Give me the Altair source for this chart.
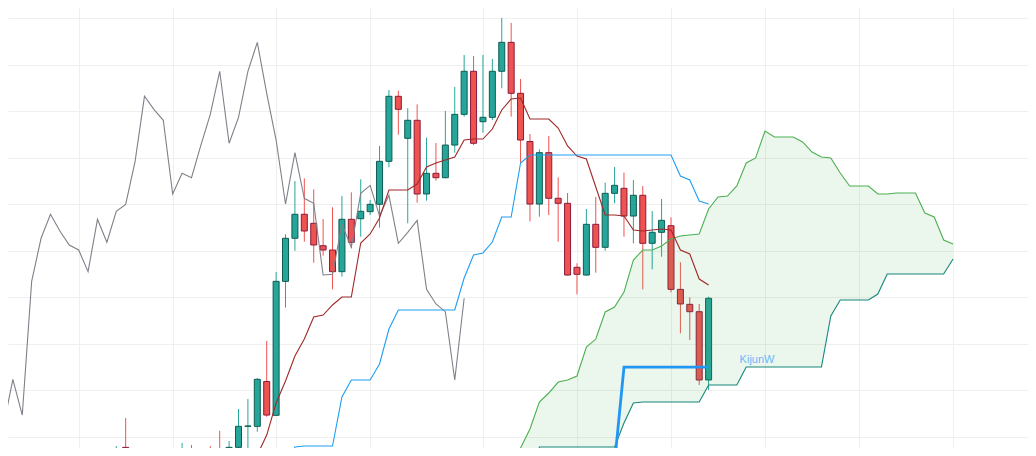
import altair as alt
import pandas as pd

# ---- candles (weekly bars, index position) ----
candle_idx = [0, 1, 7, 8, 9, 10, 11, 12, 13, 14, 15, 16, 17, 18, 19, 20, 21, 22, 23, 24,
              25, 26, 27, 28, 29, 30, 31, 32, 33, 34, 35, 36, 37, 38, 39, 40, 41, 42, 43, 44,
              45, 46, 47, 48, 49, 50, 51, 52, 53, 54, 55, 56, 57, 58, 59, 60, 61, 62, 63]
open_ = [467.0, 488.9, 464.5, 475.3, 462.4, 474.2, 477.4, 468.8, 488.9, 511.5, 511.5, 559.7, 523.3, 667.3, 713.6, 739.4, 729.7, 705.6, 701.0, 677.7,
         734.0, 734.6, 742.2, 750.1, 796.3, 866.2, 821.0, 840.4, 761.2, 783.4, 778.7, 813.8, 846.8, 893.1, 838.9, 843.6, 893.1, 924.2, 869.4, 817.6,
         750.4, 805.6, 756.6, 751.2, 682.4, 674.1, 728.6, 703.9, 761.9, 767.3, 737.5, 759.8, 708.2, 720.0, 727.1, 658.7, 642.6, 634.7, 561.3]
high = [490.3, 520.4, 493.6, 491.4, 482.8, 490.3, 506.8, 495.7, 530.1, 540.8, 563.4, 603.2, 677.3, 717.9, 775.1, 778.0, 766.2, 734.3, 746.9, 759.0,
        763.0, 777.0, 754.7, 812.8, 873.0, 872.2, 853.3, 857.6, 821.7, 816.0, 850.4, 876.2, 910.6, 909.5, 910.6, 906.3, 950.3, 945.0, 884.8, 825.7,
        809.2, 823.5, 779.1, 762.3, 686.7, 745.1, 758.0, 773.3, 790.2, 784.1, 776.2, 769.8, 742.9, 755.8, 736.1, 687.8, 650.1, 643.0, 650.8]
low = [462.4, 459.2, 459.2, 459.2, 455.9, 460.2, 462.4, 464.5, 481.4, 484.2, 505.7, 521.8, 523.0, 639.2, 700.2, 709.9, 687.3, 694.9, 658.7, 672.3,
       703.1, 715.3, 738.6, 725.0, 789.9, 824.9, 729.7, 751.8, 754.0, 775.5, 778.0, 805.6, 844.3, 813.8, 827.1, 840.7, 874.8, 844.3, 794.2, 731.8,
       736.8, 738.6, 709.9, 673.5, 653.4, 673.4, 676.6, 700.2, 751.2, 715.3, 708.2, 658.7, 680.2, 693.8, 655.5, 611.5, 604.3, 555.9, 550.5]
close = [476.4, 464.5, 475.3, 464.5, 473.1, 466.7, 468.8, 488.9, 511.5, 511.9, 562.0, 523.6, 667.3, 713.6, 739.4, 721.4, 706.4, 701.0, 677.7, 734.0,
         709.3, 742.6, 750.1, 796.3, 866.2, 852.2, 840.4, 761.2, 783.4, 778.7, 813.8, 846.8, 893.1, 815.7, 843.6, 893.1, 924.2, 869.4, 819.2, 750.4,
         805.6, 756.6, 751.2, 674.1, 674.9, 728.6, 703.9, 761.9, 770.5, 737.5, 759.8, 708.2, 720.0, 732.9, 658.7, 643.0, 634.7, 561.3, 649.1]

# ---- Ichimoku lines ----
tenkan_idx = list(range(14, 64))
tenkan = [453.8, 480.7, 502.1, 536.5, 560.2, 587.1, 605.3, 629.0, 631.1, 641.9,
          650.5, 650.5, 708.5, 718.2, 735.4, 765.5, 765.5, 765.5, 771.9, 790.2,
          794.5, 797.7, 800.9, 819.2, 820.3, 820.3, 831.0, 851.5, 863.3, 864.4,
          841.8, 841.8, 841.8, 832.1, 812.8, 802.0, 798.8, 768.7, 738.6, 738.6,
          737.5, 722.5, 721.4, 722.5, 723.6, 722.5, 701.0, 696.7, 669.8, 663.4]

kijun_idx = list(range(18, 64))
kijun = [464.5, 489.3, 490.3, 490.3, 490.3, 490.3, 543.0, 561.3, 561.3, 561.3,
         578.5, 616.1, 636.5, 636.5, 636.5, 636.5, 636.5, 636.5, 636.5, 670.9,
         695.6, 697.8, 709.6, 736.5, 736.5, 794.5, 803.1, 803.1, 803.1, 803.1,
         803.1, 803.1, 803.1, 803.1, 803.1, 803.1, 803.1, 803.1, 803.1, 803.1,
         803.1, 803.1, 780.5, 776.2, 753.7, 750.4]

span_idx = list(range(42, 90))
senkou_a = [459.2, 488.2, 508.6, 537.6, 547.3, 559.1, 561.3, 565.6, 596.7, 605.3,
            634.4, 639.7, 655.8, 690.2, 701.0, 701.0, 705.3, 712.8, 716.0, 717.1,
            718.2, 745.1, 758.0, 759.0, 769.8, 794.5, 799.9, 828.9, 822.4, 822.4,
            822.4, 817.1, 806.3, 800.9, 799.9, 783.7, 769.8, 769.8, 769.8, 761.2,
            761.2, 762.3, 762.3, 762.3, 740.8, 736.5, 711.7, 707.4]
senkou_b = [400.0, 400.0, 400.0, 489.3, 489.3, 489.3, 489.3, 489.3, 489.3, 489.3,
            489.3, 489.3, 515.0, 536.5, 537.6, 537.6, 537.6, 537.6, 537.6, 537.6,
            537.6, 555.9, 555.9, 555.9, 555.9, 575.2, 575.2, 575.2, 575.2, 575.2,
            575.2, 575.2, 575.2, 575.2, 630.1, 647.2, 647.2, 647.2, 647.2, 653.7,
            675.2, 675.2, 675.2, 675.2, 675.2, 675.2, 675.2, 691.3]

kijunw_idx = list(range(53, 64))
kijunw = [472.1, 575.2, 575.2, 575.2, 575.2, 575.2, 575.2, 575.2, 575.2, 575.2, 575.2]

chikou_shift = 26
x_grid = [-4, 6, 17, 27, 39, 49, 59, 69, 79, 89]
y_grid = [500, 550, 600, 650, 700, 750, 800, 850, 900, 950]

# ---- tables ----
candles = pd.DataFrame({"i": candle_idx, "open": open_, "high": high, "low": low, "close": close})
candles["dir"] = ["up" if c >= o else "down" for o, c in zip(open_, close)]
tenkan_df = pd.DataFrame({"i": tenkan_idx, "v": tenkan})
kijun_df = pd.DataFrame({"i": kijun_idx, "v": kijun})
cloud_df = pd.DataFrame({"i": span_idx, "a": senkou_a, "b": senkou_b})
kijunw_df = pd.DataFrame({"i": kijunw_idx, "v": kijunw})
chikou_df = pd.DataFrame({"i": [k - chikou_shift for k in candle_idx], "v": close})
label_df = pd.DataFrame({"i": [kijunw_idx[-1]], "v": [kijunw[-1]], "t": ["KijunW"]})

xs = alt.Scale(domain=[-10.985, 96.44], zero=False, nice=False)
ys = alt.Scale(domain=[488.2, 961.1], zero=False, nice=False)
xaxis = alt.Axis(values=x_grid, labels=False, ticks=False, domain=False, title=None,
                 grid=True, gridColor="#efefef", gridWidth=1)
yaxis = alt.Axis(values=y_grid, labels=False, ticks=False, domain=False, title=None,
                 grid=True, gridColor="#efefef", gridWidth=1)


def X():
    return alt.X("i:Q", scale=xs, axis=xaxis)


def Y(f):
    return alt.Y(f + ":Q", scale=ys, axis=yaxis)


dir_fill = alt.Scale(domain=["up", "down"], range=["#26a69a", "#ef5350"])
dir_stroke = alt.Scale(domain=["up", "down"], range=["#0e5c52", "#8a1a3c"])

wicks = alt.Chart(candles).mark_rule(strokeWidth=1, clip=True).encode(
    x=X(), y=Y("low"), y2="high:Q",
    color=alt.Color("dir:N", scale=dir_fill, legend=None))

bodies = alt.Chart(candles).mark_bar(size=6, strokeWidth=1, clip=True).encode(
    x=X(), y=Y("open"), y2="close:Q",
    color=alt.Color("dir:N", scale=dir_fill, legend=None),
    stroke=alt.Stroke("dir:N", scale=dir_stroke, legend=None))

cloud = alt.Chart(cloud_df).mark_area(color="#4caf50", opacity=0.11, clip=True).encode(
    x=X(), y=Y("a"), y2="b:Q")

line_a = alt.Chart(cloud_df).mark_line(color="#4caf50", strokeWidth=1.1, clip=True).encode(
    x=X(), y=Y("a"))
line_b = alt.Chart(cloud_df).mark_line(color="#14877a", strokeWidth=1.1, clip=True).encode(
    x=X(), y=Y("b"))

chikou_line = alt.Chart(chikou_df).mark_line(color="#80808a", strokeWidth=1.1, clip=True).encode(
    x=X(), y=Y("v"))
tenkan_line = alt.Chart(tenkan_df).mark_line(color="#a02828", strokeWidth=1.1, clip=True).encode(
    x=X(), y=Y("v"))
kijun_line = alt.Chart(kijun_df).mark_line(color="#1e9ef2", strokeWidth=1.1, clip=True).encode(
    x=X(), y=Y("v"))
kijunw_line = alt.Chart(kijunw_df).mark_line(color="#2196f3", strokeWidth=2.8, clip=True).encode(
    x=X(), y=Y("v"))

label = alt.Chart(label_df).mark_text(
    align="left", baseline="middle", dx=31, dy=-7, fontSize=11,
    font="Liberation Sans", color="#6ab8f7").encode(x=X(), y=Y("v"), text="t:N")

chart = alt.layer(
    wicks, bodies, cloud, line_a, line_b, chikou_line, tenkan_line, kijun_line, kijunw_line, label
).properties(
    width=1020, height=440, padding=0, autosize=alt.AutoSizeParams(type="none"),
    background="white"
).configure_view(stroke=None)

chart.save("out.html", embed_options={"renderer": "svg", "actions": False})
